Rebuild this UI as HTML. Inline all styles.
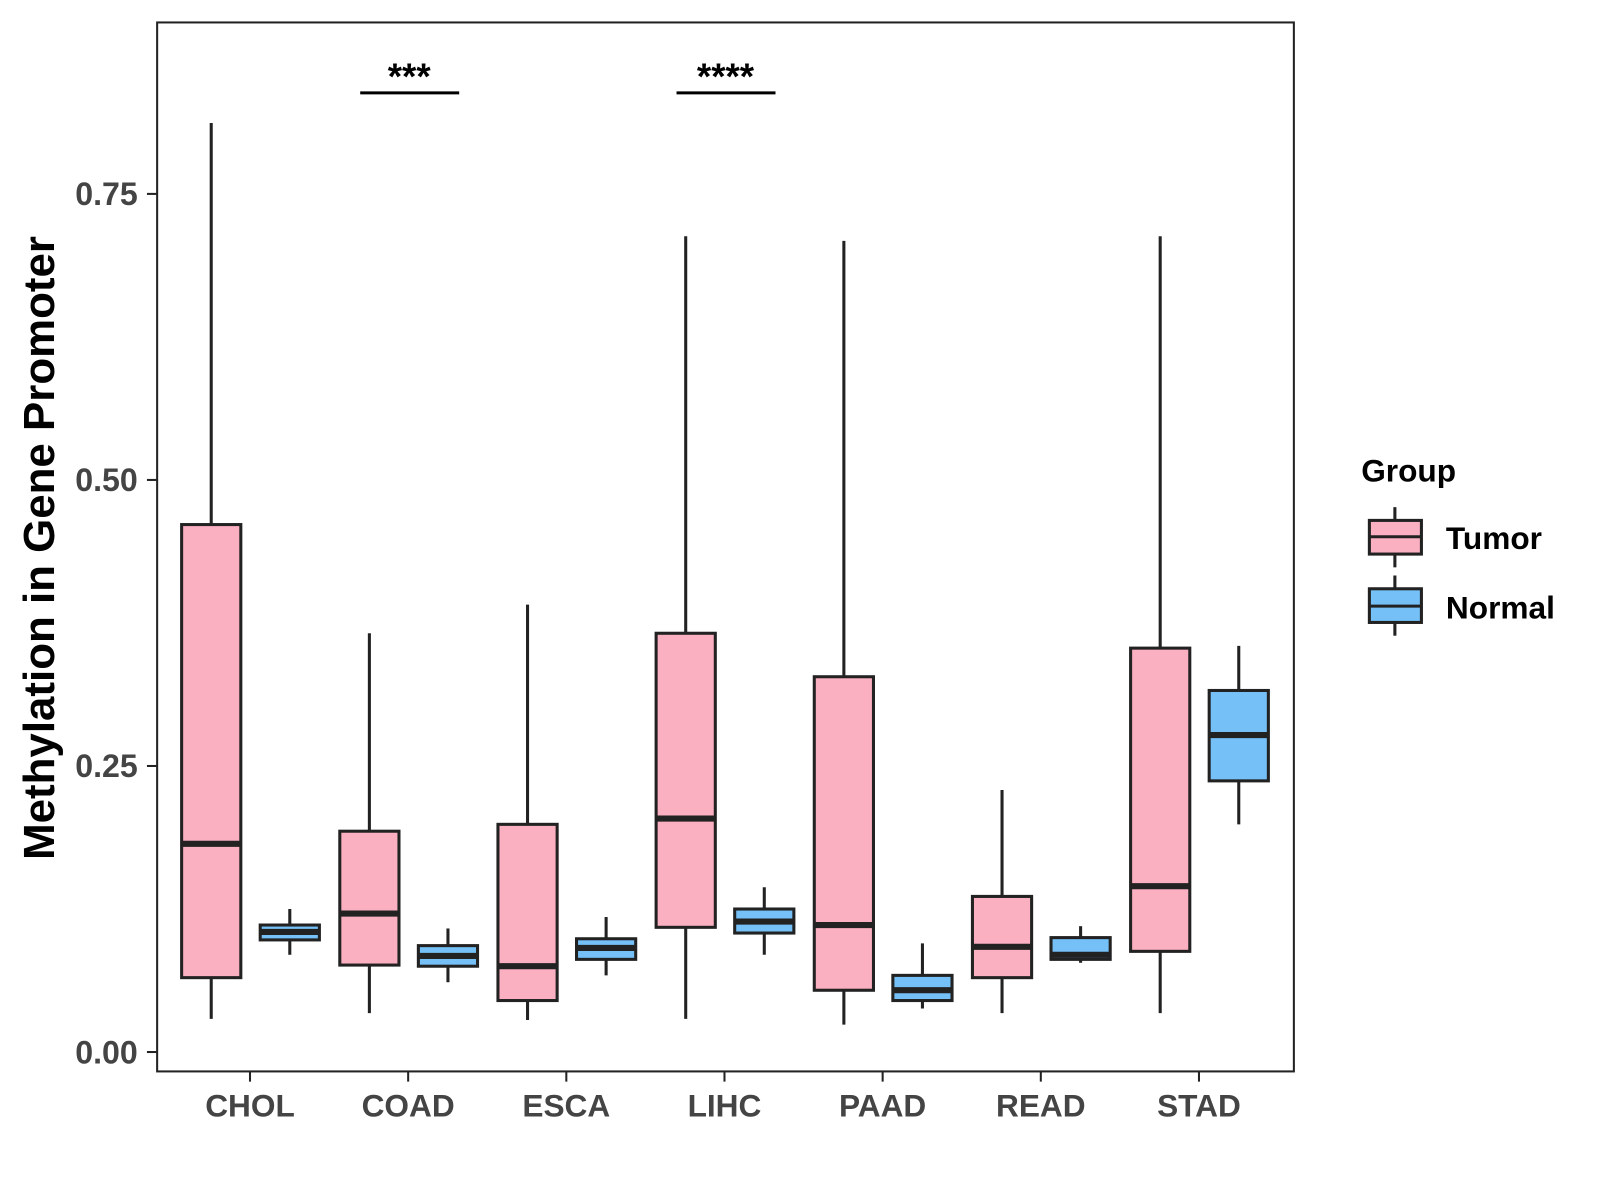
<!DOCTYPE html>
<html><head><meta charset="utf-8"><style>
html,body{margin:0;padding:0;background:#fff;}
svg{display:block;font-family:"Liberation Sans",Arial,sans-serif;}
</style></head><body>
<svg id="chart" width="1600" height="1200" viewBox="0 0 1600 1200">
<g transform="scale(1.0204)">
<rect x="154" y="22" width="1114" height="1028" fill="#fff" stroke="#222" stroke-width="2"/>
<g id="marks"></g>
<g id="axes"></g>
<text x="0" y="0" transform="translate(53,537) rotate(-90)" text-anchor="middle" font-size="43" font-weight="bold" fill="#000">Methylation in Gene Promoter</text>
<g>
<text x="1334" y="472" font-size="31" font-weight="bold" fill="#000">Group</text>
<g>
<line x1="1367" y1="497" x2="1367" y2="556" stroke="#222" stroke-width="3"/>
<rect x="1342" y="510" width="51" height="33" fill="#FBB0C2" stroke="#222" stroke-width="3"/>
<line x1="1342" y1="526" x2="1393" y2="526" stroke="#222" stroke-width="3"/>
<text x="1417" y="538" font-size="31" font-weight="bold" fill="#000">Tumor</text>
</g>
<g>
<line x1="1367" y1="564" x2="1367" y2="623" stroke="#222" stroke-width="3"/>
<rect x="1342" y="577" width="51" height="33" fill="#74C0F7" stroke="#222" stroke-width="3"/>
<line x1="1342" y1="594" x2="1393" y2="594" stroke="#222" stroke-width="3"/>
<text x="1417" y="606" font-size="31" font-weight="bold" fill="#000">Normal</text>
</g>
</g>
</g>
</svg>
<script>
const categories = ["CHOL","COAD","ESCA","LIHC","PAAD","READ","STAD"];
// [low, q1, median, q3, high]
const tumorStats = [
 [0.029,0.065,0.182,0.461,0.812],
 [0.034,0.076,0.121,0.193,0.366],
 [0.028,0.045,0.075,0.199,0.391],
 [0.029,0.109,0.204,0.366,0.713],
 [0.024,0.054,0.111,0.328,0.709],
 [0.034,0.065,0.092,0.136,0.229],
 [0.034,0.088,0.145,0.353,0.713]
];
const normalStats = [
 [0.085,0.098,0.105,0.111,0.125],
 [0.061,0.075,0.084,0.093,0.108],
 [0.067,0.081,0.091,0.099,0.118],
 [0.085,0.104,0.114,0.125,0.144],
 [0.038,0.045,0.054,0.067,0.095],
 [0.078,0.081,0.085,0.100,0.110],
 [0.199,0.237,0.277,0.316,0.355]
];
const yTicks = [0, 0.25, 0.5, 0.75];
const yTickLabels = ["0.00","0.25","0.50","0.75"];
const sigCategories = ["COAD","LIHC"];
const sigLabels = ["***","****"];

const NS = "http://www.w3.org/2000/svg";
const y = v => 1031 - v * 1121.3;
const x = i => 245 + i * 155;
function mk(tag, attrs, parent){const e=document.createElementNS(NS,tag);for(const k in attrs)e.setAttribute(k,attrs[k]);parent.appendChild(e);return e;}
const marks = document.getElementById("marks");
const axes = document.getElementById("axes");

function drawBox(cx, s, fill, name){
  const g = mk("g",{},marks);
  
  
  const hw = 29;
  mk("line",{x1:cx,y1:y(s[4]),x2:cx,y2:y(s[0]),stroke:"#222","stroke-width":3},g);
  mk("rect",{x:cx-hw,y:y(s[3]),width:2*hw,height:y(s[1])-y(s[3]),fill:fill,stroke:"#222","stroke-width":3},g);
  mk("line",{x1:cx-hw,y1:y(s[2]),x2:cx+hw,y2:y(s[2]),stroke:"#222","stroke-width":6},g);
}
categories.forEach((c,i)=>{
  drawBox(x(i)-38, tumorStats[i], "#FBB0C2", "box-tumor-"+c.toLowerCase());
  drawBox(x(i)+39, normalStats[i], "#74C0F7", "box-normal-"+c.toLowerCase());
  const t = mk("line",{x1:x(i),y1:1050,x2:x(i),y2:1060,stroke:"#222","stroke-width":2},axes);
  
  
  const l = mk("text",{x:x(i),y:1094,"text-anchor":"middle","font-size":31,"font-weight":"bold",fill:"#444"},axes);
  l.textContent = c;
  
  
});
yTicks.forEach((v,i)=>{
  const t = mk("line",{x1:144,y1:y(v),x2:154,y2:y(v),stroke:"#222","stroke-width":2},axes);
  
  
  const l = mk("text",{x:135,y:y(v)+11,"text-anchor":"end","font-size":31.5,"font-weight":"bold",fill:"#444"},axes);
  l.textContent = yTickLabels[i];
  
  
});
sigCategories.forEach((c,k)=>{
  const i = categories.indexOf(c);
  const ln = mk("line",{x1:x(i)-47,y1:91,x2:x(i)+50,y2:91,stroke:"#000","stroke-width":3},marks);
  
  
  const tx = mk("text",{x:x(i)+1,y:87,"text-anchor":"middle","font-size":36,"font-weight":"bold",fill:"#000"},marks);
  tx.textContent = sigLabels[k];
  
  
});
</script>
</body></html>
